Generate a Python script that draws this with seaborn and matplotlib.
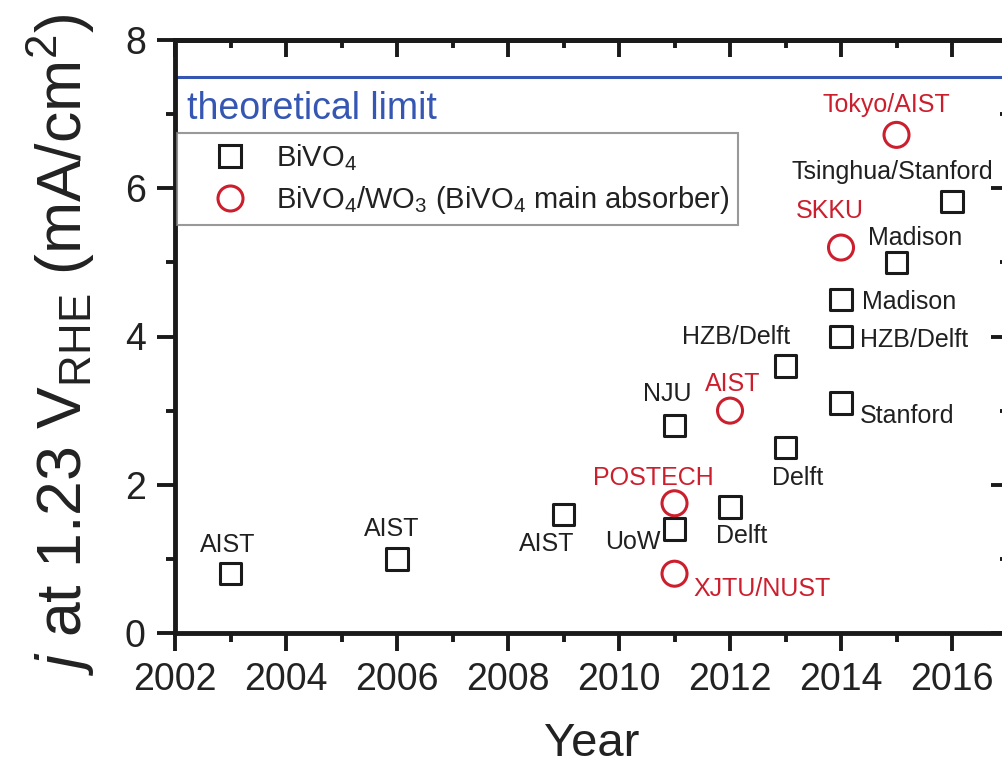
import matplotlib
matplotlib.use("Agg")
import matplotlib.pyplot as plt
from matplotlib.lines import Line2D
from matplotlib.ticker import MultipleLocator
import numpy as np
import pandas as pd
import seaborn as sns

# ---------------- data ----------------
bivo4_year = [2003, 2006, 2009, 2011, 2011, 2012, 2013, 2013, 2014, 2014, 2014, 2015, 2016]
bivo4_j = [0.80, 1.00, 1.60, 2.80, 1.40, 1.70, 3.60, 2.50, 4.50, 4.00, 3.10, 5.00, 5.82]
bivo4_label = ["AIST", "AIST", "AIST", "NJU", "UoW", "Delft", "HZB/Delft", "Delft",
               "Madison", "HZB/Delft", "Stanford", "Madison", "Tsinghua/Stanford"]

wo3_year = [2011, 2011, 2012, 2014, 2015]
wo3_j = [1.75, 0.80, 3.00, 5.20, 6.72]
wo3_label = ["POSTECH", "XJTU/NUST", "AIST", "SKKU", "Tokyo/AIST"]

theoretical_limit = 7.5
x_ticks = [2002, 2004, 2006, 2008, 2010, 2012, 2014, 2016]
y_ticks = [0, 2, 4, 6, 8]

# label placement (offset in points, ha) -- styling only
bivo4_offsets = [((-2, 21), "center"), ((-3.5, 21.5), "center"), ((-12, -21), "center"),
                 ((-5, 23), "center"), ((-10, -9.5), "right"), ((8.5, -21), "center"),
                 ((3.5, 21), "right"), ((9, -21.5), "center"), ((15, -1.5), "left"),
                 ((13.5, -2.5), "left"), ((13.5, -9.5), "left"), ((13.5, 17.3), "center"),
                 ((-43, 21.5), "center")]
wo3_offsets = [((-15, 18), "center"), ((13.5, -11), "left"), ((2, 19), "center"),
               ((-8, 26), "center"), ((-7, 21.5), "center")]

BLACK = "#1a1a1a"
RED = "#cc1f2e"
BLUE = "#3557b3"

sns.set_theme(style="ticks")
plt.rcParams["font.family"] = ["Liberation Sans", "DejaVu Sans"]
plt.rcParams["mathtext.fontset"] = "custom"
plt.rcParams["mathtext.rm"] = "Liberation Sans"
plt.rcParams["mathtext.it"] = "Liberation Sans:italic"
plt.rcParams["mathtext.bf"] = "Liberation Sans:bold"

fig = plt.figure(figsize=(10.03, 7.68), dpi=100)
ax = fig.add_axes([0.1745, 1 - 633 / 768, 1.0045 - 0.1745, (633 - 40) / 768])

df_b = pd.DataFrame({"year": bivo4_year, "j": bivo4_j})
df_w = pd.DataFrame({"year": wo3_year, "j": wo3_j})

sns.scatterplot(data=df_b, x="year", y="j", marker="s", s=15.5 ** 2,
                facecolor="none", edgecolor=BLACK, linewidth=2.2, ax=ax, zorder=3)
sns.scatterplot(data=df_w, x="year", y="j", marker="o", s=18 ** 2,
                facecolor="none", edgecolor=RED, linewidth=2.2, ax=ax, zorder=3)
for coll, col in zip(ax.collections, [BLACK, RED]):
    coll.set_facecolor("none")
    coll.set_edgecolor(col)

ax.axhline(theoretical_limit, color=BLUE, lw=2.2, zorder=2)
ax.text(0.0144, 6.94, "theoretical limit", color=BLUE, fontsize=27,
        transform=ax.get_yaxis_transform(), ha="left", va="baseline")

for x, y, lab, (off, ha) in zip(bivo4_year, bivo4_j, bivo4_label, bivo4_offsets):
    ax.annotate(lab, (x, y), xytext=off, textcoords="offset points",
                ha=ha, va="center", fontsize=18, color="#202020")
for x, y, lab, (off, ha) in zip(wo3_year, wo3_j, wo3_label, wo3_offsets):
    ax.annotate(lab, (x, y), xytext=off, textcoords="offset points",
                ha=ha, va="center", fontsize=18, color=RED)

ax.set_xlim(2002, 2017)
ax.set_ylim(0, 8)
ax.set_xticks(x_ticks)
ax.set_yticks(y_ticks)
ax.xaxis.set_minor_locator(MultipleLocator(1))
ax.yaxis.set_minor_locator(MultipleLocator(1))

for sp in ax.spines.values():
    sp.set_linewidth(3.5)
    sp.set_color(BLACK)
    sp.set_visible(True)

ax.tick_params(which="major", direction="out", length=13, width=2.8, labelsize=27,
               colors=BLACK, top=False, right=False, labelcolor="#222222")
ax.tick_params(axis="x", which="major", pad=8)
ax.tick_params(axis="y", which="major", pad=8)
ax.tick_params(which="minor", direction="out", length=6.5, width=2.8,
               top=False, right=False, colors=BLACK)

secx = ax.secondary_xaxis("top")
secx.set_xticks(x_ticks)
secx.xaxis.set_minor_locator(MultipleLocator(1))
secx.tick_params(which="major", direction="in", length=12, width=2.8, labeltop=False, colors=BLACK)
secx.tick_params(which="minor", direction="in", length=6, width=2.8, colors=BLACK)
secx.spines["top"].set_linewidth(3.5)
secy = ax.secondary_yaxis("right")
secy.set_yticks(y_ticks)
secy.yaxis.set_minor_locator(MultipleLocator(1))
secy.tick_params(which="major", direction="in", length=12, width=2.8, labelright=False, colors=BLACK)
secy.tick_params(which="minor", direction="in", length=6, width=2.8, colors=BLACK)
secy.spines["right"].set_linewidth(3.5)

ax.set_xlabel("Year", fontsize=34, color="#222222")
ax.xaxis.set_label_coords(0.5, -0.150)
ax.set_ylabel(r"$\mathit{j}$ at 1.23 V$_{\mathrm{RHE}}$ (mA/cm$^{2}$)", fontsize=45, color="#222222")
ax.yaxis.set_label_coords(-0.094, 0.486)

handles = [
    Line2D([], [], marker="s", ls="none", markersize=15.5, markerfacecolor="none",
           markeredgecolor=BLACK, markeredgewidth=2.2),
    Line2D([], [], marker="o", ls="none", markersize=18, markerfacecolor="none",
           markeredgecolor=RED, markeredgewidth=2.2),
]
leg = ax.legend(handles, [r"BiVO$_4$", r"BiVO$_4$/WO$_3$ (BiVO$_4$ main absorber)"],
                loc="upper left", bbox_to_anchor=(0.0024, 0.843), borderaxespad=0,
                fontsize=21, frameon=True, fancybox=False, edgecolor="#808080",
                borderpad=0.3, handlelength=3.0, handletextpad=0.1, labelspacing=0.4)
leg.get_frame().set_linewidth(1.5)
for t in leg.get_texts():
    t.set_color("#222222")

fig.savefig("out.png", dpi=100)
